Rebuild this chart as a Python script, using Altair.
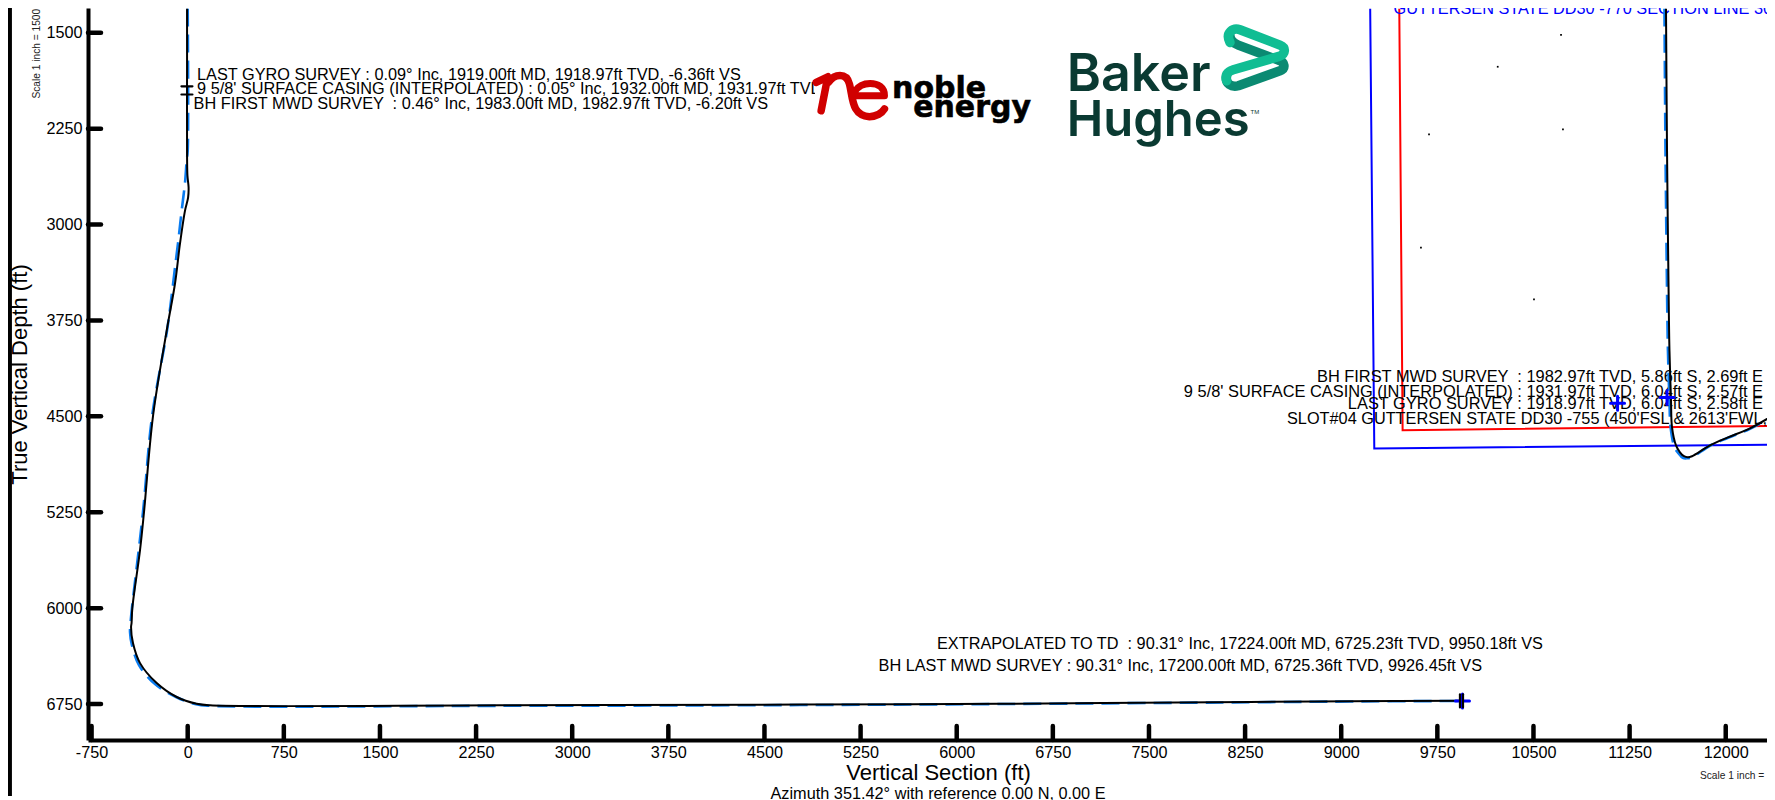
import altair as alt
import pandas as pd

FONT = "Liberation Sans"
NB = "\u00a0"

# Vertical section: actual (black) and plan (blue dashed)
actual_vs = [-5, -5, -5, -2, 7, 3, -21, -60, -99, -161, -271, -341, -372, -432, -438, -442, -427, -372, -242, -86, 70, 174, 2436, 4777, 6338, 8288, 9068, 9950]
actual_tvd = [1312, 1719, 2445, 2617, 2711, 2789, 2891, 3148, 3461, 3813, 4500, 5250, 5547, 6000, 6117, 6148, 6273, 6430, 6586, 6695, 6748, 6760, 6760, 6754, 6748, 6734, 6728, 6725]
plan_vs = [0, 0, -8, -21, -47, -73, -99, -125, -161, -278, -349, -435, -446, -450, -435, -380, -255, -91, 65, 174, 2436, 4777, 6338, 8288, 9068, 9926]
plan_tvd = [1312, 2422, 2500, 2672, 2891, 3125, 3336, 3555, 3828, 4500, 5250, 6000, 6117, 6188, 6289, 6445, 6594, 6695, 6752, 6764, 6764, 6758, 6750, 6736, 6730, 6726]

# Plan view, expressed on the same axes
map_actual_x = [11534, 11542, 11557, 11561, 11573, 11581, 11612, 11643, 11674, 11705, 11737, 11877, 12018, 12189, 12384]
map_actual_y = [1312, 2422, 3750, 3984, 4375, 4586, 4727, 4781, 4812, 4820, 4812, 4727, 4664, 4594, 4484]
map_plan_x = [11522, 11530, 11545, 11549, 11561, 11570, 11600, 11632, 11665, 11700, 11737, 11877, 12018, 12189, 12384]
map_plan_y = [1312, 2422, 3750, 3984, 4375, 4586, 4740, 4790, 4825, 4828, 4820, 4730, 4668, 4598, 4490]
blue_line_x = [9226, 9258, 12384]
blue_line_y = [1312, 4752, 4721]
red_line_x = [9453, 9479, 12384]
red_line_y = [1312, 4609, 4575]
dot_x = [10715, 10221, 9685, 10730, 9622, 10504]
dot_y = [1516, 1766, 2295, 2255, 3180, 3586]

x_ticks = [-750, 0, 750, 1500, 2250, 3000, 3750, 4500, 5250, 6000, 6750, 7500, 8250, 9000, 9750, 10500, 11250, 12000]
y_ticks = [1500, 2250, 3000, 3750, 4500, 5250, 6000, 6750]

blue_cross_x = [11156, 11542, 9946]
blue_cross_y = [4398, 4352, 6727]
casing_x = [-6, -6]
casing_y = [1919, 1983]
end_x = [9926.45, 9950.18]
end_y = [6725.36, 6725.23]

labels_left = [
    ("LAST GYRO SURVEY : 0.09° Inc, 1919.00ft MD, 1918.97ft TVD, -6.36ft VS", 73, 1824),
    ("9 5/8' SURFACE CASING (INTERPOLATED) : 0.05° Inc, 1932.00ft MD, 1931.97ft TVD, -6.31ft VS", 73, 1934),
    (f"BH FIRST MWD SURVEY {NB}: 0.46° Inc, 1983.00ft MD, 1982.97ft TVD, -6.20ft VS", 46, 2047),
    (f"EXTRAPOLATED TO TD {NB}: 90.31° Inc, 17224.00ft MD, 6725.23ft TVD, 9950.18ft VS", 5846, 6273),
    ("BH LAST MWD SURVEY : 90.31° Inc, 17200.00ft MD, 6725.36ft TVD, 9926.45ft VS", 5390, 6441),
    ("SLOT#04 GUTTERSEN STATE DD30 -755 (450'FSL & 2613'FWL,SEC 30)", 8577, 4513),
]
labels_right = [
    (f"BH FIRST MWD SURVEY {NB}: 1982.97ft TVD, 5.86ft S, 2.69ft E", 12291, 4188),
    ("9 5/8' SURFACE CASING (INTERPOLATED) : 1931.97ft TVD, 6.04ft S, 2.57ft E", 12291, 4301),
    ("LAST GYRO SURVEY : 1918.97ft TVD, 6.04ft S, 2.58ft E", 12291, 4398),
]

CROSS = "M-1,0L1,0M0,-1L0,1"
HBAR = "M-1,0L1,0"
VBAR = "M0,-1L0,1"
NE_N = ("M-1,-0.38L-0.67,-0.54L-0.86,0.43M-0.65,-0.38C-0.48,-0.62,-0.14,-0.67,-0.05,-0.33"
        "C0.05,0.05,0,0.57,0.52,0.6C0.71,0.6,0.88,0.5,0.95,0.38")
NE_E = "M0.14,0L0.95,0C0.95,-0.24,0.76,-0.35,0.54,-0.35C0.33,-0.35,0.19,-0.26,0.1,-0.12"
BH_DARK = ("M-0.85,0.55C-0.9,0.8,-0.7,0.9,-0.5,0.85L0.75,0.4C0.93,0.33,0.9,0.13,0.7,0.08"
           "L-0.5,-0.37C-0.65,-0.43,-0.75,-0.5,-0.75,-0.65")
BH_LIGHT = ("M-0.75,-0.45C-0.9,-0.75,-0.65,-0.9,-0.45,-0.83L0.75,-0.37C0.93,-0.3,0.93,-0.1,0.72,-0.03"
            "L-0.65,0.37C-0.85,0.43,-0.9,0.55,-0.85,0.7")

W, H = 1679, 732
xs = alt.Scale(domain=[-777.9, 12322], nice=False, zero=False)
ys = alt.Scale(domain=[1306.5, 7031.25], reverse=True, nice=False, zero=False)
x_axis = alt.Axis(values=x_ticks, title="Vertical Section (ft)", grid=False, ticks=False,
                  labelExpr="datum.value + ''", labelFont=FONT, labelFontSize=16.2, labelColor="#000",
                  labelPadding=4, labelOverlap=False, labelFlush=False,
                  domainColor="#000", domainWidth=4,
                  titleFont=FONT, titleFontSize=22, titleFontWeight="normal", titleColor="#000",
                  titleX=850, titleY=39, titleAnchor="middle", titleBaseline="alphabetic")
y_axis = alt.Axis(values=y_ticks, title="True Vertical Depth (ft)", grid=False, ticks=False,
                  labelExpr="datum.value + ''", labelFont=FONT, labelFontSize=16.2, labelColor="#000",
                  labelPadding=6, labelOverlap=False, labelFlush=False,
                  domainColor="#000", domainWidth=4,
                  titleFont=FONT, titleFontSize=22, titleFontWeight="normal", titleColor="#000",
                  titleX=-62, titleY=366, titleAnchor="middle", titleBaseline="alphabetic")
X = alt.X("x:Q", scale=xs, axis=x_axis)
Y = alt.Y("y:Q", scale=ys, axis=y_axis)


def frame(xv, yv):
    return pd.DataFrame({"x": xv, "y": yv, "i": range(len(xv))})


def line(xv, yv, color, width, dash=None, smooth=False):
    kw = {"strokeDash": dash} if dash else {}
    if smooth:
        kw["interpolate"] = "catmull-rom"
    return alt.Chart(frame(xv, yv)).mark_line(color=color, strokeWidth=width, clip=True, **kw).encode(
        x=X, y=Y, order="i:Q")


def shape(xv, yv, path, color, size, width):
    return alt.Chart(frame(xv, yv)).mark_point(shape=path, filled=False, stroke=color, opacity=1,
                                               size=size, strokeWidth=width, strokeCap="round",
                                               strokeJoin="round").encode(x=X, y=Y)


def text(rows, align="left", color="#000", size=16.3, font=FONT, baseline="middle", **kw):
    df = pd.DataFrame(rows, columns=["t", "x", "y"])
    return alt.Chart(df).mark_text(align=align, baseline=baseline, color=color, fontSize=size, font=font, **kw).encode(
        x=X, y=Y, text="t:N")


layers = [
    # frame line at the page's left edge
    alt.Chart(pd.DataFrame({"x": [-1387], "y": [1300], "y2": [7470]})).mark_rule(color="#000", strokeWidth=4).encode(
        x=X, y=Y, y2="y2:Q"),
    # inward ticks
    alt.Chart(pd.DataFrame({"x": x_ticks})).mark_rule(color="#000", strokeWidth=4.5, strokeCap="round").encode(
        x=X, y=alt.value(H - 14), y2=alt.value(H)),
    alt.Chart(pd.DataFrame({"y": y_ticks})).mark_rule(color="#000", strokeWidth=4.5, strokeCap="round").encode(
        y=Y, x=alt.value(0), x2=alt.value(13)),
    # lease and hard lines
    line(blue_line_x, blue_line_y, "#0000ff", 2),
    line(red_line_x, red_line_y, "#ff0000", 2),
    # grid-corner specks
    alt.Chart(frame(dot_x, dot_y)).mark_point(shape="square", filled=True, color="#000", opacity=1, size=3).encode(x=X, y=Y),
    text(labels_left, dy=1),
    text(labels_right, align="right", size=16.4, dy=1),
    text([("GUTTERSEN STATE DD30 -770 SECTION LINE 30", 9408, 1352)], color="#0000ff", baseline="alphabetic"),
    text([("Azimuth 351.42° with reference 0.00 N, 0.00 E", 5854, 7449)], align="center", dy=1),
    text([("Scale 1 inch = 1500", 11799, 7310)], size=10.2, color="#222"),
    text([("Scale 1 inch = 1500", -1172, 1664)], align="center", size=10.2, angle=270, color="#222"),
    # wells
    line(plan_vs, plan_tvd, "#0a7cf0", 2.6, [18, 8], smooth=True),
    line(actual_vs, actual_tvd, "#000", 2, smooth=True),
    line(map_plan_x, map_plan_y, "#0a7cf0", 2.6, [18, 8], smooth=True),
    line(map_actual_x, map_actual_y, "#000", 2, smooth=True),
    shape(blue_cross_x, blue_cross_y, CROSS, "#0000ff", 196, 3),
    shape(casing_x, casing_y, HBAR, "#000", 121, 2.2),
    shape(end_x, end_y, VBAR, "#000", 169, 2.2),
    # logos on their white panel
    alt.Chart(pd.DataFrame({"x": [4894], "x2": [6700], "y": [1730], "y2": [2200]})).mark_rect(color="#fff").encode(
        x=X, x2="x2:Q", y=Y, y2="y2:Q"),
    shape([5177], [1992], NE_N, "#d00000", 4900, 7.5),
    shape([5177], [1992], NE_E, "#d00000", 4900, 7),
    text([("noble", 5496, 2008)], size=30, font="DejaVu Sans", fontWeight="bold", baseline="alphabetic", stroke="#000", strokeWidth=0.6),
    text([("energy", 6580, 2156)], align="right", size=30, font="DejaVu Sans", fontWeight="bold", baseline="alphabetic", stroke="#000", strokeWidth=0.6),
    text([("Baker", 6858, 1955)], size=52, font="Inter", fontWeight=600, color="#0a3a32", baseline="alphabetic"),
    text([("Hughes", 6858, 2310)], size=49, font="Inter", fontWeight=600, color="#0a3a32", baseline="alphabetic"),
    text([("TM", 8292, 2123)], size=6, color="#0a3a32"),
    shape([8327], [1693], BH_DARK, "#0b8a72", 4444, 9.5),
    shape([8327], [1693], BH_LIGHT, "#10bd93", 4444, 9.5),
]

chart = alt.layer(*layers).properties(
    width=W, height=H,
    autosize=alt.AutoSizeParams(type="none"),
    padding={"left": 80, "top": 0, "right": 0, "bottom": 60},
    background="#ffffff",
).configure_view(stroke=None)

chart.save("out.html", embed_options={"renderer": "svg", "actions": False})
